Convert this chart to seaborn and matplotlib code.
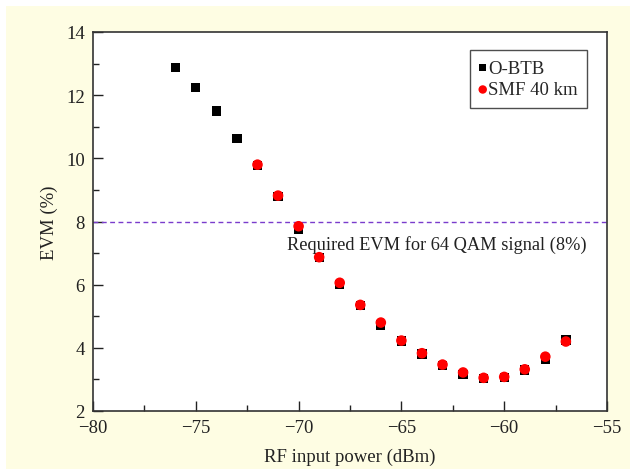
import numpy as np
import pandas as pd
import matplotlib
matplotlib.use("Agg")
import matplotlib.pyplot as plt
import seaborn as sns
from matplotlib.patches import Rectangle
from matplotlib.ticker import MultipleLocator, FuncFormatter

# Data
btb_power = [-76, -75, -74, -73, -72, -71, -70, -69, -68, -67,
             -66, -65, -64, -63, -62, -61, -60, -59, -58, -57]
btb_evm = [12.87, 12.25, 11.5, 10.62, 9.78, 8.8, 7.75, 6.85, 6.0, 5.33,
           4.72, 4.22, 3.8, 3.44, 3.15, 3.02, 3.06, 3.3, 3.65, 4.25]
smf_power = [-72, -71, -70, -69, -68, -67, -66, -65, -64, -63,
             -62, -61, -60, -59, -58, -57]
smf_evm = [9.8, 8.82, 7.85, 6.87, 6.06, 5.36, 4.8, 4.23, 3.83, 3.47,
           3.22, 3.05, 3.08, 3.32, 3.72, 4.2]
threshold = 8
threshold_label = "Required EVM for 64 QAM signal (8%)"

df_btb = pd.DataFrame({"power": btb_power, "evm": btb_evm})
df_smf = pd.DataFrame({"power": smf_power, "evm": smf_evm})

sns.set_style("ticks")
plt.rcParams["font.family"] = ["Liberation Serif", "DejaVu Serif"]

fig = plt.figure(figsize=(6.33, 4.77), dpi=100)
fig.patch.set_facecolor("white")
fig.patches.append(Rectangle((6 / 633, 0.015), 0.985, 0.97, transform=fig.transFigure,
                             facecolor="#fefde3", edgecolor="none", zorder=-10))
ax = fig.add_axes([93 / 633, 1 - 412 / 477, (607 - 93) / 633, (412 - 33) / 477])
ax.set_facecolor("white")

sns.scatterplot(data=df_btb, x="power", y="evm", ax=ax, marker="s", s=45,
                color="black", edgecolor="none", label="O-BTB", zorder=3)
sns.scatterplot(data=df_smf, x="power", y="evm", ax=ax, marker="o", s=58,
                color="#ff0000", edgecolor="none", label="SMF 40 km", zorder=4)

ax.axhline(threshold, color="#7a3ccc", lw=1, ls=(0, (3.5, 2.5)), zorder=2)
ax.text(-70.55, 7.3, threshold_label, fontsize=13.2, ha="left", va="center", color="#222222")

ax.set_xlim(-80, -55)
ax.set_ylim(2, 14)
ax.xaxis.set_major_locator(MultipleLocator(5))
ax.xaxis.set_minor_locator(MultipleLocator(2.5))
ax.yaxis.set_major_locator(MultipleLocator(2))
ax.yaxis.set_minor_locator(MultipleLocator(1))
ax.xaxis.set_major_formatter(FuncFormatter(lambda v, p: f"\u2212{abs(int(round(v)))}"))
ax.tick_params(which="both", direction="in", top=False, right=False, labelsize=13.5, colors="#222222")
ax.tick_params(axis="x", pad=6)
ax.tick_params(axis="y", pad=6)
ax.tick_params(which="major", length=7, width=1)
ax.tick_params(which="minor", length=4, width=1)
for sp in ax.spines.values():
    sp.set_visible(True)
    sp.set_color("#333333")
    sp.set_linewidth(1.2)

ax.set_xlabel("RF input power (dBm)", fontsize=13.5, color="#222222", labelpad=8)
ax.set_ylabel("EVM (%)", fontsize=13.5, color="#222222", labelpad=6)

leg = ax.legend(loc="upper right", bbox_to_anchor=(0.98, 0.977), fontsize=13.5,
                frameon=True, fancybox=False, handlelength=0.4, handletextpad=0.1,
                borderpad=0.5, labelspacing=0.25, markerscale=0.8)
leg.get_frame().set_edgecolor("#222222")
leg.get_frame().set_linewidth(1.0)

fig.savefig("out.png", dpi=100)
